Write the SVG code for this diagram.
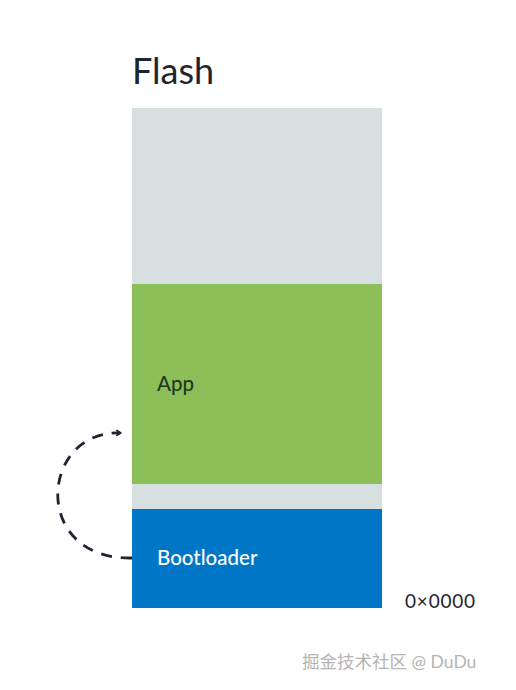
<svg xmlns="http://www.w3.org/2000/svg" width="516" height="690" viewBox="0 0 516 690">
<style>
text{font-family:Lato,"Open Sans","Noto Sans CJK SC",sans-serif}
.lbl{font-size:20.5px;font-weight:500}
</style>
<defs>
<marker id="ah" viewBox="0 0 10 10" refX="6" refY="5" markerWidth="7" markerHeight="7" orient="auto" markerUnits="userSpaceOnUse">
<path d="M1.5,1.5 L7,5 L1.5,8.5" fill="none" stroke="#1f2530" stroke-width="2.6" stroke-linecap="round" stroke-linejoin="round"/>
</marker>
</defs>
<rect width="516" height="690" fill="#ffffff"/>
<g id="title"><text x="132" y="84" font-size="36" fill="#1f2530">Flash</text></g>
<g id="free-top"><rect x="132" y="108" width="250" height="176" fill="#d8dfe1"/></g>
<g id="app"><rect x="132" y="284" width="250" height="200" fill="#8cbf58"/><text class="lbl" x="157" y="391" fill="#203820">App</text></g>
<g id="free-gap"><rect x="132" y="484" width="250" height="25" fill="#d8dfe1"/></g>
<g id="bootloader"><rect x="132" y="509" width="250" height="99" fill="#0076c6"/><text class="lbl" x="157" y="565" fill="#ffffff">Bootloader</text></g>
<g id="addr"><text x="405" y="608" font-size="19" letter-spacing="0.8" fill="#1f2530">0×0000</text></g>
<g id="connectors">
<path d="M132,558 C30,560 40,430 120,433" fill="none" stroke="#1f2530" stroke-width="2.8" stroke-dasharray="11,9" marker-end="url(#ah)"/>
</g>
<g id="watermark"><text x="302" y="668" font-size="17.5" fill="#b4b4b4">掘金技术社区 @ DuDu</text></g>
</svg>
